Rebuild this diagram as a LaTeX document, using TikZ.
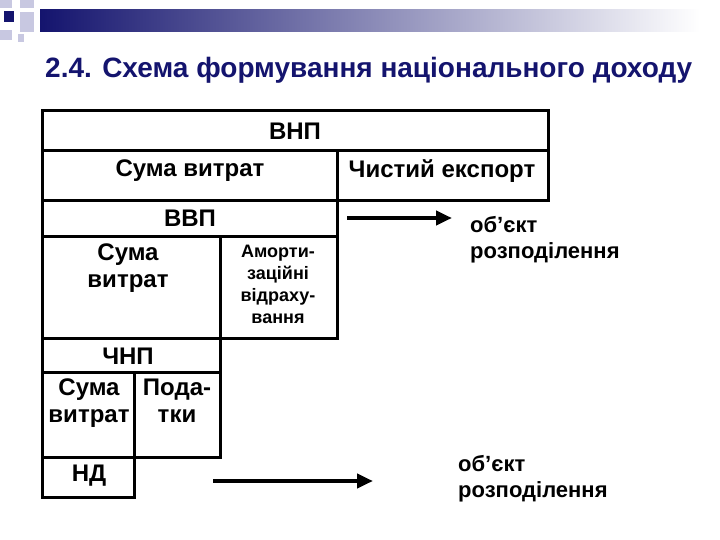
\documentclass[tikz,border=0pt]{standalone}
\usepackage{fontspec}
\setmainfont{Liberation Sans}
\usetikzlibrary{arrows.meta}
\definecolor{navy}{RGB}{20,20,110}
\definecolor{lav}{RGB}{200,200,225}
\begin{document}
\begin{tikzpicture}[x=1pt,y=-1pt,
  box/.style={draw=black,line width=3pt},
  lbl/.style={font=\bfseries\fontsize{24}{27}\selectfont,align=center},
  sml/.style={font=\bfseries\fontsize{18}{22}\selectfont,align=center},
  arr/.style={line width=4pt,-{Triangle[length=16pt,width=14pt]}}]
\useasboundingbox (0,0) rectangle (720,540);
% decoration
\shade[left color=navy,right color=white] (40,10) rectangle (700,32);
\fill[lav] (0,0) rectangle (12,8);
\fill[lav] (20,0) rectangle (34,8);
\fill[navy] (4,11) rectangle (14,22);
\fill[lav] (20,12) rectangle (34,32);
\fill[lav] (0,30) rectangle (12,40);
\fill[lav] (18,34) rectangle (24,42);
\node[anchor=base west,font=\bfseries\fontsize{28}{30}\selectfont,text=navy,inner sep=0] (title) at (45,78) {2.4. Схема формування національного доходу};
% boxes
\draw[box] (42,111) rectangle (548,151);
\node[lbl] (vnp) at (295,131) {ВНП};
\draw[box] (42,151) rectangle (337,201);
\node[lbl] (sv1) at (190,171) {Сума витрат};
\draw[box] (337,151) rectangle (548,201);
\node[lbl] (ce) at (442,171) {Чистий експорт};
\draw[box] (42,201) rectangle (337,236);
\node[lbl] (vvp) at (190,218) {ВВП};
\draw[box] (42,236) rectangle (220,338);
\node[lbl,anchor=north] (sv2) at (128,240) {Сума\\витрат};
\draw[box] (220,236) rectangle (337,338);
\node[sml,anchor=north] (am) at (278,242) {Аморти-\\заційні\\відраху-\\вання};
\draw[box] (42,338) rectangle (220,372);
\node[lbl] (cnp) at (128,356) {ЧНП};
\draw[box] (42,372) rectangle (134,457);
\node[lbl,anchor=north] (sv3) at (89,375) {Сума\\витрат};
\draw[box] (134,372) rectangle (220,457);
\node[lbl,anchor=north] (pod) at (177,375) {Пода-\\тки};
\draw[box] (42,457) rectangle (134,497);
\node[lbl] (nd) at (89,476) {НД};
% arrows and texts
\node[lbl,font=\bfseries\fontsize{22}{26}\selectfont,align=left,anchor=north west,inner sep=0] (o1) at (470,216) {об’єкт\\розподілення};
\node[lbl,font=\bfseries\fontsize{22}{26}\selectfont,align=left,anchor=north west,inner sep=0] (o2) at (458,455) {об’єкт\\розподілення};
\coordinate (a1s) at (347,218);
\coordinate (a1e) at (452,218);
\coordinate (a2s) at (213,481);
\coordinate (a2e) at (373,481);
\draw[arr] (a1s) -- (a1e);
\draw[arr] (a2s) -- (a2e);
\end{tikzpicture}
\end{document}
